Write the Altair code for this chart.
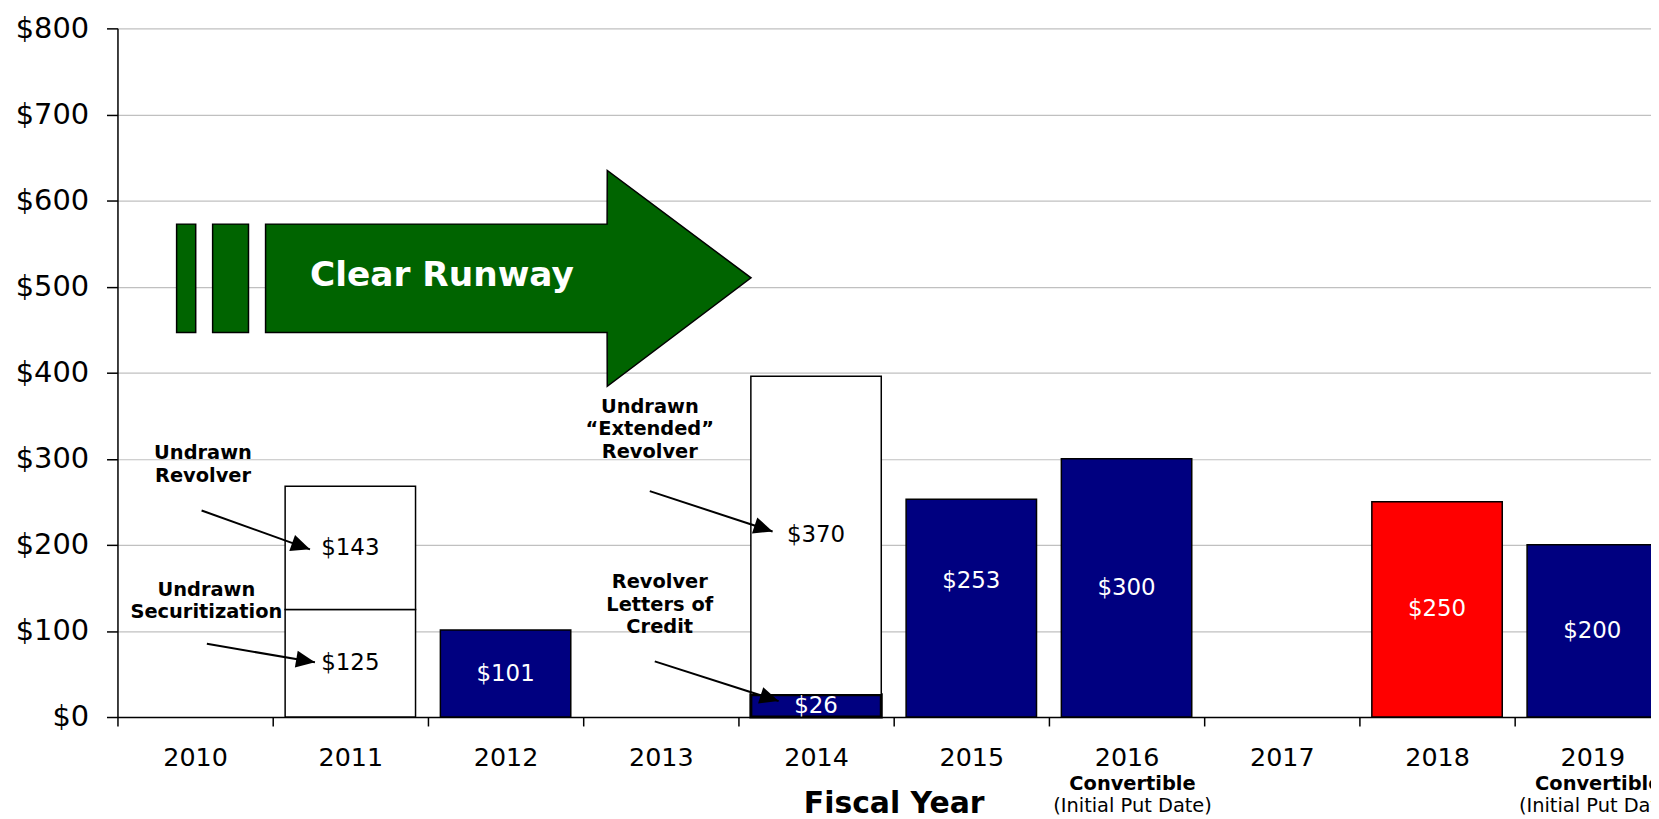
import math
import altair as alt
import pandas as pd

# ---------------- data ----------------
years = ["2010", "2011", "2012", "2013", "2014", "2015", "2016", "2017", "2018", "2019"]

# bar segments, listed bottom to top within each year
seg_year = ["2011", "2011", "2012", "2014", "2014", "2015", "2016", "2018", "2019"]
seg_kind = ["undrawn", "undrawn", "drawn", "drawn", "undrawn", "drawn", "drawn", "highlight", "drawn"]
seg_value = [125, 143, 101, 26, 370, 253, 300, 250, 200]

convertible_years = ["2016", "2019"]

# annotation call-outs (x in year-index units, y in $ at the first text line)
note_text = [["Undrawn", "Revolver"],
             ["Undrawn", "Securitization"],
             ["Undrawn", "\u201cExtended\u201d", "Revolver"],
             ["Revolver", "Letters of", "Credit"]]
note_x = [0.551, 0.573, 3.429, 3.493]
note_y = [306.5, 147.5, 360.0, 156.5]

arrow_x1 = [0.542, 0.576, 3.429, 3.461]
arrow_y1 = [239.9, 85.0, 262.4, 64.7]
arrow_x2 = [1.240, 1.272, 4.220, 4.259]
arrow_y2 = [194.8, 63.6, 215.6, 18.5]

# "Clear Runway" arrow shape
stripe_x0 = [0.381, 0.613]
stripe_x1 = [0.504, 0.844]
runway_x = [0.954, 3.154, 3.155, 4.081]
runway_lo = [446.6, 446.6, 384.2, 510.2]
runway_hi = [572.6, 572.6, 634.9, 510.2]

# ---------------- styling ----------------
NAVY = "#000080"
RED = "#ff0000"
GREEN = "#006400"
FONT = "DejaVu Sans"
PLOT_W = 1541
BAND_RANGE = 1560
PLOT_H = 692
label_shift = {"2015": 32}

kind_domain = ["undrawn", "drawn", "highlight"]
kind_range = ["#ffffff", NAVY, RED]

# ---------------- tables ----------------
base = {}
rows = []
for yr, kind, val in zip(seg_year, seg_kind, seg_value):
    y0 = base.get(yr, 0)
    y1 = y0 + val
    base[yr] = y1
    rows.append(dict(year=yr, kind=kind, value=val, y0=y0, y1=y1,
                     ymid=(y0 + y1) / 2 + label_shift.get(yr, 0),
                     label=f"${val}",
                     tc="black" if kind == "undrawn" else "white",
                     sw=3 if (kind == "drawn" and val < 50) else 1.5))
bars_df = pd.DataFrame(rows)

conv_df = pd.DataFrame({"year": convertible_years})

notes_df = pd.DataFrame({"text": note_text, "x": note_x, "y": note_y})

px_x = BAND_RANGE / 10.0
px_y = PLOT_H / 800.0
angles = [math.degrees(math.atan2((a - b) * px_y, (d - c) * px_x))
          for a, b, c, d in zip(arrow_y1, arrow_y2, arrow_x1, arrow_x2)]
arrows_df = pd.DataFrame({"x1": arrow_x1, "y1": arrow_y1, "x2": arrow_x2,
                          "y2": arrow_y2, "ang": angles})

stripes_df = pd.DataFrame({"x0": stripe_x0, "x1": stripe_x1,
                           "lo": [runway_lo[0]] * 2, "hi": [runway_hi[0]] * 2})
runway_df = pd.DataFrame({"x": runway_x, "lo": runway_lo, "hi": runway_hi})
runway_label_df = pd.DataFrame({"x": [2.09], "y": [512.7], "t": ["Clear Runway"]})

# ---------------- scales ----------------
xband = alt.Scale(domain=years, range=[0, BAND_RANGE], paddingInner=0, paddingOuter=0)
xq = alt.Scale(domain=[0, 10], range=[0, BAND_RANGE])
yscale = alt.Scale(domain=[0, 800], nice=False, zero=True)

# ---------------- band layers ----------------
bars = alt.Chart(bars_df).mark_bar(width={"band": 0.84}, stroke="black").encode(
    x=alt.X("year:N", scale=xband, sort=years,
            axis=alt.Axis(tickBand="extent", labelAngle=0, labelFontSize=25.5, labelColor="black",
                          labelPadding=20, tickSize=9, tickColor="black", tickWidth=1.5,
                          domainColor="black", domainWidth=1.5, grid=False,
                          title="Fiscal Year", titleFontSize=30, titleFontWeight="bold",
                          titleColor="black", titleBaseline="middle", titleY=87)),
    y=alt.Y("y1:Q", scale=yscale,
            axis=alt.Axis(values=[0, 100, 200, 300, 400, 500, 600, 700, 800],
                          labelExpr="'$' + datum.value", labelFontSize=29, labelColor="black",
                          labelPadding=18, tickSize=11, tickColor="black", tickWidth=1.5,
                          domainColor="black", domainWidth=1.5, grid=True,
                          gridColor="#c0c0c0", gridWidth=1.2, title=None)),
    y2="y0:Q",
    fill=alt.Fill("kind:N", scale=alt.Scale(domain=kind_domain, range=kind_range), legend=None),
    strokeWidth=alt.StrokeWidth("sw:Q", scale=None),
)

bar_labels = alt.Chart(bars_df).mark_text(fontSize=23, baseline="middle", align="center").encode(
    x=alt.X("year:N", scale=xband, sort=years),
    y=alt.Y("ymid:Q", scale=yscale, title=None),
    text="label:N",
    color=alt.Color("tc:N", scale=None),
)

conv_bold = alt.Chart(conv_df).mark_text(fontSize=19.5, fontWeight="bold", color="black",
                                         baseline="middle", dx=6).encode(
    x=alt.X("year:N", scale=xband, sort=years),
    y=alt.value(759),
    text=alt.value("Convertible"),
)
conv_put = alt.Chart(conv_df).mark_text(fontSize=19.5, color="black", baseline="middle", dx=6).encode(
    x=alt.X("year:N", scale=xband, sort=years),
    y=alt.value(781),
    text=alt.value("(Initial Put Date)"),
)

band_layer = alt.layer(bars, bar_labels, conv_bold, conv_put)

# ---------------- annotation layers ----------------
stripes = alt.Chart(stripes_df).mark_rect(fill=GREEN, stroke="black", strokeWidth=1.5).encode(
    x=alt.X("x0:Q", scale=xq, axis=None), x2="x1:Q",
    y=alt.Y("lo:Q", scale=yscale, title=None), y2="hi:Q",
)
runway = alt.Chart(runway_df).mark_area(fill=GREEN, stroke="black", strokeWidth=1.5,
                                        interpolate="linear", opacity=1).encode(
    x=alt.X("x:Q", scale=xq, axis=None),
    y=alt.Y("lo:Q", scale=yscale, title=None), y2="hi:Q",
)
runway_text = alt.Chart(runway_label_df).mark_text(fontSize=34.5, fontWeight="bold", color="white",
                                                   baseline="middle", align="center").encode(
    x=alt.X("x:Q", scale=xq, axis=None),
    y=alt.Y("y:Q", scale=yscale, title=None),
    text="t:N",
)
notes = alt.Chart(notes_df).mark_text(fontSize=19.5, fontWeight="bold", color="black",
                                      lineHeight=22.5, baseline="middle", align="center").encode(
    x=alt.X("x:Q", scale=xq, axis=None),
    y=alt.Y("y:Q", scale=yscale, title=None),
    text="text",
)
arrow_lines = alt.Chart(arrows_df).mark_rule(color="black", strokeWidth=2).encode(
    x=alt.X("x1:Q", scale=xq, axis=None), x2="x2:Q",
    y=alt.Y("y1:Q", scale=yscale, title=None), y2="y2:Q",
)
arrow_heads = alt.Chart(arrows_df).mark_point(shape="M0,0L-1,-0.45L-1,0.45Z", filled=True,
                                              size=1444, color="black", opacity=1,
                                              strokeWidth=0).encode(
    x=alt.X("x2:Q", scale=xq, axis=None),
    y=alt.Y("y2:Q", scale=yscale, title=None),
    angle=alt.Angle("ang:Q", scale=None),
)

anno_layer = alt.layer(stripes, runway, runway_text, notes, arrow_lines, arrow_heads)

chart = alt.layer(band_layer, anno_layer).resolve_scale(x="independent").properties(
    width=PLOT_W, height=PLOT_H,
    padding={"left": 110, "top": 18.5, "right": 0, "bottom": 100},
    autosize=alt.AutoSizeParams(type="none"),
).configure(font=FONT).configure_view(stroke=None)

chart.save("out.html", embed_options={"renderer": "svg", "actions": False})
